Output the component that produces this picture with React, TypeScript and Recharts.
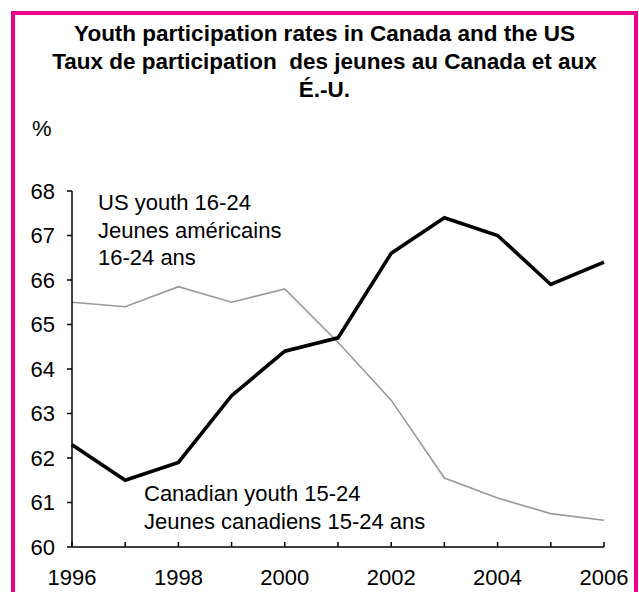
import React from 'react';
import { LineChart, Line, XAxis, YAxis } from 'recharts';

const years = [1996, 1997, 1998, 1999, 2000, 2001, 2002, 2003, 2004, 2005, 2006];
const canadaYouth = [62.3, 61.5, 61.9, 63.4, 64.4, 64.7, 66.6, 67.4, 67.0, 65.9, 66.4];
const usYouth = [65.5, 65.4, 65.85, 65.5, 65.8, 64.6, 63.3, 61.55, 61.1, 60.75, 60.6];
const yTicks = [60, 61, 62, 63, 64, 65, 66, 67, 68];
const xLabelYears = [1996, 1998, 2000, 2002, 2004, 2006];

const titleLines = [
  'Youth participation rates in Canada and the US',
  'Taux de participation  des jeunes au Canada et aux',
  'É.-U.',
];
const usLabel = ['US youth 16-24', 'Jeunes américains', '16-24 ans'];
const canadaLabel = ['Canadian youth 15-24', 'Jeunes canadiens 15-24 ans'];

const data = years.map((year, i) => ({ year, canada: canadaYouth[i], us: usYouth[i] }));

const FONT = '"Liberation Sans", Arial, sans-serif';

const YearTick = (props: any) => {
  const { x, y, payload } = props;
  const showLabel = xLabelYears.includes(payload.value);
  return (
    <g>
      <line x1={x} y1={y} x2={x} y2={y - 5} stroke="#000" strokeWidth={1.5} />
      {showLabel && (
        <text x={x} y={y + 38} textAnchor="middle" fill="#000" fontSize={22} fontFamily={FONT}>
          {payload.value}
        </text>
      )}
    </g>
  );
};

export default function App() {
  return (
    <div
      style={{
        position: 'absolute',
        left: 0,
        top: 0,
        width: 639,
        height: 592,
        background: '#fff',
        overflow: 'hidden',
        fontFamily: FONT,
        color: '#000',
      }}
    >
      <div
        style={{
          position: 'absolute',
          left: 11,
          top: 11,
          width: 619,
          height: 600,
          border: '4px solid #EC008C',
        }}
      />
      <div
        style={{
          position: 'absolute',
          left: 11,
          top: 20,
          width: 627,
          textAlign: 'center',
          fontWeight: 'bold',
          fontSize: 22.5,
          lineHeight: '28px',
          whiteSpace: 'pre',
        }}
      >
        {titleLines.map((t) => (
          <div key={t}>{t}</div>
        ))}
      </div>
      <div style={{ position: 'absolute', left: 32, top: 115, fontSize: 22, lineHeight: '28px' }}>%</div>

      <div style={{ position: 'absolute', left: 0, top: 0 }}>
        <LineChart width={639} height={592} data={data} margin={{ top: 191, right: 35, bottom: 0, left: 0 }}>
          <XAxis
            dataKey="year"
            type="number"
            domain={[1996, 2006]}
            ticks={years}
            interval={0}
            height={45}
            tickSize={0}
            tickMargin={0}
            tickLine={false}
            tick={<YearTick />}
            axisLine={{ stroke: '#000', strokeWidth: 1.5 }}
          />
          <YAxis
            type="number"
            domain={[60, 68]}
            ticks={yTicks}
            interval={0}
            width={72}
            tickSize={5}
            tickMargin={12}
            tick={{ fill: '#000', fontSize: 22, fontFamily: FONT }}
            tickLine={{ stroke: '#000', strokeWidth: 1.5 }}
            axisLine={{ stroke: '#000', strokeWidth: 1.5 }}
          />
          <Line
            type="linear"
            dataKey="us"
            stroke="#999999"
            strokeWidth={1.6}
            dot={false}
            activeDot={false}
            isAnimationActive={false}
          />
          <Line
            type="linear"
            dataKey="canada"
            stroke="#000000"
            strokeWidth={3.6}
            dot={false}
            activeDot={false}
            isAnimationActive={false}
          />
        </LineChart>
      </div>

      <div style={{ position: 'absolute', left: 98, top: 189, fontSize: 22, lineHeight: '27.5px' }}>
        {usLabel.map((t) => (
          <div key={t}>{t}</div>
        ))}
      </div>
      <div style={{ position: 'absolute', left: 144, top: 480, fontSize: 22, lineHeight: '28px' }}>
        {canadaLabel.map((t) => (
          <div key={t}>{t}</div>
        ))}
      </div>
    </div>
  );
}
